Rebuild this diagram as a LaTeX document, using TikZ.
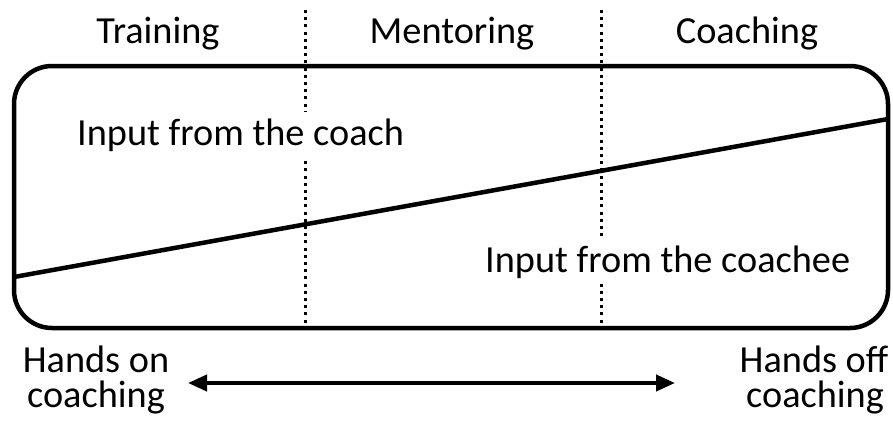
\documentclass[tikz,border=0pt]{standalone}
\usepackage{fontspec}
\setmainfont{Carlito}
\usetikzlibrary{arrows.meta}
\begin{document}
\begin{tikzpicture}[x=1pt,y=-1pt,
  lbl/.style={inner sep=0pt, font=\fontsize{38.3}{40}\selectfont},
  inlbl/.style={lbl, fill=white, inner xsep=3pt, text height=33pt, text depth=12pt},
  frame/.style={draw, line width=4.5pt, rounded corners=38pt},
  divider/.style={line width=3pt, dash pattern=on 3pt off 4.2pt},
  trend/.style={line width=4.5pt},
  scalearrow/.style={line width=4pt, {Triangle[length=19pt,width=16pt]}-{Triangle[length=19pt,width=16pt]}}]
\useasboundingbox (0,0) rectangle (893,423);
% frame
\coordinate (tl) at (14,66);
\coordinate (br) at (888,328);
\draw[frame] (tl) rectangle (br);
% dividers
\coordinate (d1top) at (305,10);
\coordinate (d1bot) at (305,329);
\coordinate (d2top) at (601,10);
\coordinate (d2bot) at (601,329);
\draw[divider] (d1top) -- (d1bot);
\draw[divider] (d2top) -- (d2bot);
% trend line
\coordinate (tA) at (14,277);
\coordinate (tB) at (888,119);
\draw[trend] (tA) -- (tB);
% labels
\node[lbl, anchor=base] (train) at (158,43) {Training};
\node[lbl, anchor=base] (mentor) at (452,43) {Mentoring};
\node[lbl, anchor=base] (coach) at (747,43) {Coaching};
\node[inlbl, anchor=base west] (incoach) at (74,145) {Input from the coach};
\node[inlbl, anchor=base west] (incoachee) at (482,272) {Input from the coachee};
\node[lbl, anchor=base] (hon1) at (96,372) {Hands on};
\node[lbl, anchor=base] (hon2) at (96,407) {coaching};
\node[lbl, anchor=base] (hoff1) at (814,372) {Hands off};
\node[lbl, anchor=base] (hoff2) at (815,407) {coaching};
% arrow
\coordinate (aL) at (188,383);
\coordinate (aR) at (675,383);
\draw[scalearrow] (aL) -- (aR);
\end{tikzpicture}
\end{document}
